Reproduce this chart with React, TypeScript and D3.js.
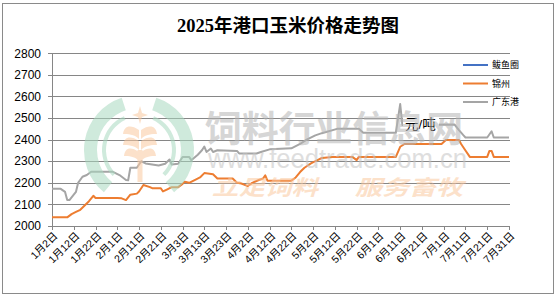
import React from 'react';
import * as d3 from 'd3';

const title = '2025年港口玉米价格走势图';
const unitLabel = '元/吨';
const seriesNames = ['鲅鱼圈', '锦州', '广东港'];
const seriesColors = ['#4472C4', '#ED7D31', '#A5A5A5'];
const yTicks = [2000, 2100, 2200, 2300, 2400, 2500, 2600, 2700, 2800];
const xTickLabels = [
  '1月2日', '1月12日', '1月22日', '2月1日', '2月11日', '2月21日', '3月3日', '3月13日',
  '3月23日', '4月2日', '4月12日', '4月22日', '5月2日', '5月12日', '5月22日', '6月1日',
  '6月11日', '6月21日', '7月1日', '7月11日', '7月21日', '7月31日',
];

const bayuquanDates: string[] = [];
const bayuquanValues: number[] = [];

const jinzhouDates = [
  '01-02', '01-09', '01-11', '01-13', '01-15', '01-17', '01-19', '01-21', '01-22', '02-01',
  '02-03', '02-05', '02-07', '02-10', '02-11', '02-13', '02-16', '02-17', '02-21', '02-22',
  '02-24', '02-26', '03-01', '03-03', '03-04', '03-06', '03-09', '03-11', '03-13', '03-17',
  '03-19', '03-26', '03-28', '03-30', '04-02', '04-04', '04-07', '04-09', '04-10', '04-11',
  '04-22', '04-24', '04-26', '04-28', '05-01', '05-04', '05-06', '05-11', '05-20', '05-22',
  '05-23', '06-09', '06-11', '06-13', '06-30', '07-02', '07-08', '07-09', '07-11', '07-13',
  '07-21', '07-22', '07-23', '07-24', '07-31',
];
const jinzhouValues = [
  2040, 2040, 2055, 2065, 2075, 2095, 2115, 2140, 2130, 2130,
  2128, 2120, 2145, 2150, 2160, 2190, 2180, 2175, 2175, 2160,
  2170, 2180, 2180, 2195, 2205, 2200, 2215, 2225, 2245, 2240,
  2220, 2220, 2200, 2197, 2185, 2200, 2213, 2220, 2235, 2210,
  2210, 2225, 2250, 2270, 2290, 2305, 2315, 2320, 2320, 2305,
  2320, 2320, 2367, 2380, 2380, 2398, 2398, 2380, 2350, 2320,
  2320, 2348, 2348, 2320, 2320,
];

const guangdongDates = [
  '01-02', '01-06', '01-08', '01-09', '01-10', '01-13', '01-14', '01-16', '01-18', '01-20',
  '01-30', '02-02', '02-05', '02-06', '02-07', '02-10', '02-12', '02-14', '02-17', '02-20',
  '02-23', '02-25', '02-26', '03-01', '03-03', '03-06', '03-07', '03-10', '03-12', '03-13',
  '03-14', '03-16', '03-17', '03-19', '03-28', '03-29', '04-06', '04-08', '04-12', '04-22',
  '04-26', '04-29', '05-03', '05-06', '05-13', '05-23', '05-25', '06-09', '06-11', '06-12',
  '07-06', '07-08', '07-10', '07-11', '07-21', '07-23', '07-24', '07-31',
];
const guangdongValues = [
  2172, 2172, 2158, 2120, 2120, 2158, 2200, 2228, 2236, 2251,
  2251, 2236, 2213, 2212, 2270, 2270, 2300, 2290, 2285, 2280,
  2288, 2308, 2285, 2288, 2320, 2320, 2305, 2330, 2352, 2368,
  2343, 2359, 2343, 2351, 2348, 2336, 2336, 2343, 2355, 2360,
  2380, 2400, 2420, 2430, 2450, 2450, 2432, 2432, 2565, 2468,
  2470, 2444, 2421, 2410, 2410, 2439, 2410, 2410,
];

const parseDay = d3.utcParse('%Y-%m-%d');
const toDate = (s: string) => parseDay('2025-' + s) as Date;
const labelToDate = (s: string) => {
  const m = s.match(/(\d+)月(\d+)日/)!;
  return new Date(Date.UTC(2025, +m[1] - 1, +m[2]));
};

const W = 557;
const H = 298;
const PL = 52;
const PR = 509;
const PT = 53.3;
const PB = 226;

const sansLatin = "'Liberation Sans', Arial, 'Noto Sans CJK SC', sans-serif";
const cjk = "'Liberation Sans', 'Noto Sans CJK SC', sans-serif";

export default function App() {
  const x = d3
    .scaleUtc()
    .domain([labelToDate(xTickLabels[0]), labelToDate(xTickLabels[xTickLabels.length - 1])])
    .range([PL, PR]);
  const y = d3.scaleLinear().domain([2000, 2800]).range([PB, PT]);

  const line = d3
    .line<[Date, number]>()
    .x((d) => x(d[0]))
    .y((d) => y(d[1]));

  const series = [
    { dates: bayuquanDates, values: bayuquanValues },
    { dates: jinzhouDates, values: jinzhouValues },
    { dates: guangdongDates, values: guangdongValues },
  ];
  const drawOrder = [2, 0, 1];

  const arcOuter = d3.arc();
  const ringCx = 139;
  const ringCy = 150;
  const ringParts = [
    { inner: 42, outer: 55, start: -2.45, end: -0.32 },
    { inner: 42, outer: 55, start: 0.32, end: 2.45 },
    { inner: 33, outer: 37, start: -2.35, end: -0.42 },
    { inner: 33, outer: 37, start: 0.42, end: 2.35 },
  ];

  return (
    <svg
      width={W}
      height={H}
      style={{ position: 'fixed', left: 0, top: 0, background: '#fff' }}
    >
      <rect x={0} y={0} width={W} height={H} fill="#fff" />
      <rect x={2.5} y={3.5} width={551} height={290} fill="#fff" stroke="#8a8a8a" strokeWidth={1} />

      {/* title */}
      <text
        x={288}
        y={32}
        textAnchor="middle"
        fontSize={18.5}
        fontWeight="bold"
        fontFamily="'Liberation Serif', 'Noto Sans CJK SC', serif"
        fill="#000"
      >
        {title}
      </text>

      {/* gridlines */}
      {yTicks.map((t) => (
        <line
          key={'g' + t}
          x1={PL}
          x2={PR + 1}
          y1={Math.round(y(t)) + 0.5}
          y2={Math.round(y(t)) + 0.5}
          stroke="#868686"
          strokeWidth={1}
        />
      ))}
      {/* y axis */}
      <line x1={PL + 0.5} x2={PL + 0.5} y1={Math.round(y(2800)) + 0.5} y2={Math.round(y(2000)) + 0.5} stroke="#868686" />
      {yTicks.map((t) => (
        <g key={'yt' + t}>
          <line x1={PL - 4} x2={PL} y1={Math.round(y(t)) + 0.5} y2={Math.round(y(t)) + 0.5} stroke="#868686" />
          <text
            x={41}
            y={y(t)}
            dy="0.35em"
            textAnchor="end"
            fontSize={12}
            fontFamily={sansLatin}
            fill="#000"
          >
            {t}
          </text>
        </g>
      ))}
      {/* x ticks and labels */}
      {xTickLabels.map((lab) => {
        const xv = Math.round(x(labelToDate(lab))) + 0.5;
        return (
          <g key={'xt' + lab}>
            <line x1={xv} x2={xv} y1={PB} y2={PB + 4} stroke="#868686" />
            <text
              transform={`translate(${xv + 3},${PB + 8}) rotate(-45)`}
              textAnchor="end"
              dy="0.35em"
              fontSize={10.5}
              fontFamily={cjk}
              fill="#000"
            >
              {lab}
            </text>
          </g>
        );
      })}

      {/* series */}
      {drawOrder.map((i) => {
        const s = series[i];
        const pts: [Date, number][] = s.dates.map((d, k) => [toDate(d), s.values[k]]);
        if (pts.length === 0) return null;
        return (
          <path
            key={'s' + i}
            d={line(pts) || ''}
            fill="none"
            stroke={seriesColors[i]}
            strokeWidth={2}
            strokeLinejoin="round"
          />
        );
      })}

      {/* unit label */}
      <rect x={403} y={114} width={36} height={17} fill="#fff" />
      <text x={405} y={128.5} fontSize={13.5} fontFamily={cjk} fill="#000">
        {unitLabel}
      </text>

      {/* legend */}
      {seriesNames.map((n, i) => {
        const ly = 65 + i * 18.5;
        return (
          <g key={'lg' + n}>
            <line x1={463} x2={488} y1={ly} y2={ly} stroke={seriesColors[i]} strokeWidth={2} />
            <text x={492} y={ly} dy="0.35em" fontSize={9} fontFamily={cjk} fill="#000">
              {n}
            </text>
          </g>
        );
      })}

      {/* watermark */}
      <g opacity={0.55} style={{ pointerEvents: 'none' }}>
        {ringParts.map((p, k) => (
          <path
            key={'r' + k}
            transform={`translate(${ringCx},${ringCy})`}
            d={
              arcOuter({
                innerRadius: p.inner,
                outerRadius: p.outer,
                startAngle: p.start,
                endAngle: p.end,
              } as any) || ''
            }
            fill="#a9d9c0"
          />
        ))}
        <path d="M140,106 L142,113 L148,115 L142,117 L140,124 L138,117 L132,115 L138,113 Z" fill="#fbc9a0" />
        <path d="M139,130 C130,124 124,126 123,134 C128,134 134,134 139,139 Z" fill="#fbc9a0" />
        <path d="M141,130 C150,124 156,126 157,134 C152,134 146,134 141,139 Z" fill="#fbc9a0" />
        <path d="M139,141 C130,135 124,137 123,145 C128,145 134,145 139,150 Z" fill="#fbc9a0" />
        <path d="M141,141 C150,135 156,137 157,145 C152,145 146,145 141,150 Z" fill="#fbc9a0" />
        <path d="M139,152 C130,146 125,148 124,156 C129,156 134,156 139,161 Z" fill="#fbc9a0" />
        <path d="M141,152 C150,146 155,148 156,156 C151,156 146,156 141,161 Z" fill="#fbc9a0" />
        <rect x={137.5} y={150} width={5} height={32} fill="#fbc9a0" />
        <text
          x={205}
          y={142}
          fontSize={36}
          fontWeight="bold"
          fontFamily="'Noto Sans CJK SC', sans-serif"
          fill="#b5b5b5"
          textLength={258}
          lengthAdjust="spacingAndGlyphs"
        >
          饲料行业信息网
        </text>
        <text
          x={208}
          y={168}
          fontSize={27}
          fontFamily="'Liberation Sans', Arial, sans-serif"
          fill="#c4c4c4"
          textLength={259}
          lengthAdjust="spacingAndGlyphs"
        >
          www.feedtrade.com.cn
        </text>
        <text
          x={212}
          y={195}
          fontSize={21}
          fontWeight="bold"
          fontStyle="italic"
          fontFamily="'Noto Sans CJK SC', sans-serif"
          fill="#fbc9a0"
          textLength={106}
          lengthAdjust="spacingAndGlyphs"
          transform="skewX(0)"
        >
          立足饲料
        </text>
        <text
          x={355}
          y={195}
          fontSize={21}
          fontWeight="bold"
          fontStyle="italic"
          fontFamily="'Noto Sans CJK SC', sans-serif"
          fill="#fbc9a0"
          textLength={108}
          lengthAdjust="spacingAndGlyphs"
        >
          服务畜牧
        </text>
      </g>
    </svg>
  );
}
